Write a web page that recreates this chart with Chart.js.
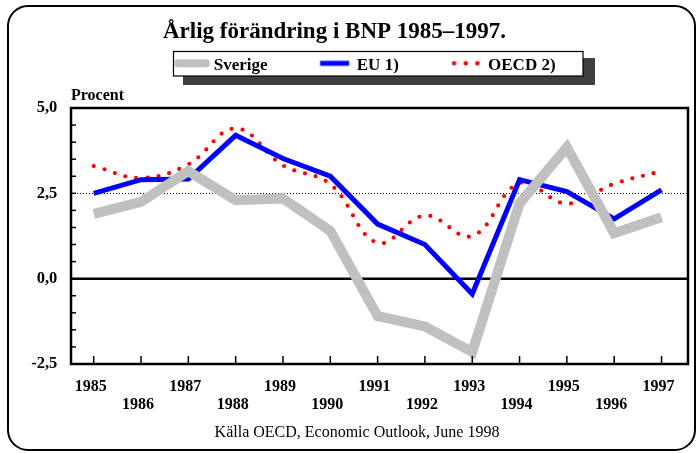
<!DOCTYPE html>
<html><head><meta charset="utf-8">
<script src="https://cdn.jsdelivr.net/npm/chart.js@4"></script>
<style>html,body{margin:0;padding:0;background:#fff}canvas{display:block}</style>
</head><body>
<canvas id="c" width="697" height="453"></canvas>
<script>
const years   = [1985,1986,1987,1988,1989,1990,1991,1992,1993,1994,1995,1996,1997];
const sverige = [1.9, 2.25, 3.15, 2.3, 2.35, 1.4, -1.1, -1.4, -2.15, 2.2, 3.85, 1.33, 1.8];
const eu      = [2.5, 2.9, 2.92, 4.2, 3.52, 3.0, 1.6, 1.0, -0.45, 2.9, 2.55, 1.75, 2.6];
const oecd    = [3.3, 2.95, 3.35, 4.4, 3.32, 2.77, 1.05, 1.85, 1.25, 2.8, 2.2, 2.78, 3.15];
const seriesNames = ['Sverige', 'EU 1)', 'OECD 2)'];
const yLabelValues = [-2.5, 0, 2.5, 5];
const titleText  = 'Årlig förändring i BNP 1985–1997.';
const footerText = 'Källa OECD, Economic Outlook, June 1998';
const yUnitText  = 'Procent';
const refLineValue = 2.5;

const SERIF = "'Liberation Serif', 'Times New Roman', serif";

function makeSwatch(draw){
  const c = document.createElement('canvas'); c.width = 60; c.height = 20;
  draw(c.getContext('2d')); return c;
}
const swatches = [
  makeSwatch(g=>{g.strokeStyle='#c0c0c0'; g.lineWidth=8; g.lineCap='round'; g.beginPath(); g.moveTo(21.8,8); g.lineTo(49.8,8); g.stroke();}),
  makeSwatch(g=>{g.strokeStyle='#0000ff'; g.lineWidth=5; g.beginPath(); g.moveTo(20.8,8); g.lineTo(49.8,8); g.stroke();}),
  makeSwatch(g=>{g.fillStyle='#ff0000'; [23.5,35.2,46.8].forEach(x=>{g.beginPath(); g.arc(x,8,2.3,0,Math.PI*2); g.fill();});})
];

const pts = arr => years.map((y,i)=>({x:y, y:arr[i]}));

const decor = {
  id: 'decor',
  afterLayout(chart){
    const t = chart.titleBlock;
    if (t){ t.left = 0; t.right = 669; t.width = 669; }
    const lg = chart.legend;
    if (lg){
      const p = lg.options.labels.padding;
      lg.left = 167.2 - p; lg.right = 900; lg.width = lg.right - lg.left;
      lg.top = 14.05; lg.bottom = lg.top + lg.height;
    }
    chart.boxes.forEach(b=>{
      if (b !== t && b.options && b.options.text === footerText){ b.left = 17; b.right = 697; b.width = 680; }
    });
  },
  beforeDraw(chart){
    const ctx = chart.ctx;
    ctx.save();
    ctx.strokeStyle = '#000'; ctx.lineWidth = 2;
    ctx.beginPath(); ctx.roundRect(8, 6, 687, 444, 20); ctx.stroke();
    ctx.fillStyle = '#404040'; ctx.fillRect(183, 58, 412, 27);
    ctx.fillStyle = '#fff'; ctx.fillRect(173.5, 51.5, 409.5, 24.5);
    ctx.strokeStyle = '#000'; ctx.lineWidth = 1.2; ctx.strokeRect(173.5, 51.5, 409.5, 24.5);
    ctx.restore();
  },
  beforeDatasetsDraw(chart){
    const ctx = chart.ctx, a = chart.chartArea, y = chart.scales.y;
    ctx.save();
    ctx.strokeStyle = '#000';
    ctx.lineWidth = 1; ctx.setLineDash([1, 2]);
    const yr = Math.round(y.getPixelForValue(refLineValue)) + 0.5;
    ctx.beginPath(); ctx.moveTo(a.left, yr); ctx.lineTo(a.right, yr); ctx.stroke();
    ctx.setLineDash([]); ctx.lineWidth = 2.5;
    const y0 = y.getPixelForValue(0);
    ctx.beginPath(); ctx.moveTo(a.left, y0); ctx.lineTo(a.right, y0); ctx.stroke();
    ctx.restore();
  },
  afterDatasetsDraw(chart){
    const ctx = chart.ctx, a = chart.chartArea, xs = chart.scales.x, ys = chart.scales.y;
    ctx.save();
    ctx.strokeStyle = '#000'; ctx.lineWidth = 1.5;
    ys.ticks.forEach(t=>{ const p = ys.getPixelForValue(t.value); ctx.beginPath(); ctx.moveTo(a.left, p); ctx.lineTo(a.left + 5, p); ctx.stroke(); });
    xs.ticks.forEach(t=>{ const p = xs.getPixelForValue(t.value); ctx.beginPath(); ctx.moveTo(p, a.bottom); ctx.lineTo(p, a.bottom - 8); ctx.stroke(); });
    ctx.lineWidth = 2.5;
    ctx.strokeRect(a.left, a.top, a.right - a.left, a.bottom - a.top);
    ctx.fillStyle = '#000'; ctx.font = 'bold 16px ' + SERIF;
    ctx.textAlign = 'left'; ctx.textBaseline = 'middle';
    ctx.fillText(yUnitText, a.left, 95.5);
    ctx.restore();
  }
};

new Chart(document.getElementById('c'), {
  type: 'line',
  plugins: [decor],
  data: {
    datasets: [
      {label: seriesNames[0], data: pts(sverige), borderColor: '#c0c0c0', backgroundColor: '#c0c0c0', borderWidth: 10, tension: 0, pointRadius: 0, pointHoverRadius: 0, fill: false},
      {label: seriesNames[1], data: pts(eu), borderColor: '#0000ff', backgroundColor: '#0000ff', borderWidth: 5, tension: 0, pointRadius: 0, pointHoverRadius: 0, fill: false},
      {label: seriesNames[2], data: pts(oecd), borderColor: '#ff0000', backgroundColor: '#ff0000', borderWidth: 4.2, borderDash: [0, 11.1], borderCapStyle: 'round', tension: 0.4, pointRadius: 0, pointHoverRadius: 0, fill: false}
    ]
  },
  options: {
    responsive: false, animation: false, events: [],
    layout: {padding: {left: 0, right: 9, top: 0, bottom: 0}},
    plugins: {
      tooltip: {enabled: false},
      title: {display: true, text: titleText, color: '#000', font: {family: SERIF, size: 23, weight: 'bold', lineHeight: 1.2}, padding: {top: 18, bottom: 0}},
      subtitle: {display: true, text: footerText, position: 'bottom', color: '#000', font: {family: SERIF, size: 16, weight: 'normal', lineHeight: 1.2}, padding: {top: 0.4, bottom: 10.4}},
      legend: {
        display: true, position: 'top', align: 'start', maxHeight: 62.4,
        labels: {
          color: '#000', font: {family: SERIF, size: 17, weight: 'bold'},
          usePointStyle: true, pointStyleWidth: 38, padding: 42.75,
          generateLabels(chart){
            const items = Chart.defaults.plugins.legend.labels.generateLabels(chart);
            items.forEach((it, i)=>{ it.pointStyle = swatches[i]; it.fontColor = '#000'; });
            return items;
          }
        }
      }
    },
    scales: {
      x: {
        type: 'linear', position: 'bottom', min: 1984.52, max: 1997.56, bounds: 'data',
        afterBuildTicks: s => { s.ticks = years.map(v => ({value: v})); },
        afterFit: s => { s.height = 59; },
        grid: {display: false, drawTicks: false}, border: {display: false},
        ticks: {
          autoSkip: false, maxRotation: 0, minRotation: 0, padding: 13.45, labelOffset: -3, color: '#000',
          font: {family: SERIF, size: 16, weight: 'bold', lineHeight: 1.144},
          callback: v => { const i = years.indexOf(v); if (i < 0) return ''; return i % 2 === 0 ? [String(years[i]), ''] : ['', String(years[i])]; }
        }
      },
      y: {
        min: -2.5, max: 5,
        afterFit: s => { s.width = 71; },
        grid: {display: false, drawTicks: false}, border: {display: false},
        ticks: {
          stepSize: 0.5, autoSkip: false, padding: 13.7, color: '#000',
          font: {family: SERIF, size: 16.5, weight: 'bold'},
          callback: v => yLabelValues.some(t => Math.abs(t - v) < 1e-6) ? v.toFixed(1).replace('.', ',') : ''
        }
      }
    }
  }
});
</script>
</body></html>
